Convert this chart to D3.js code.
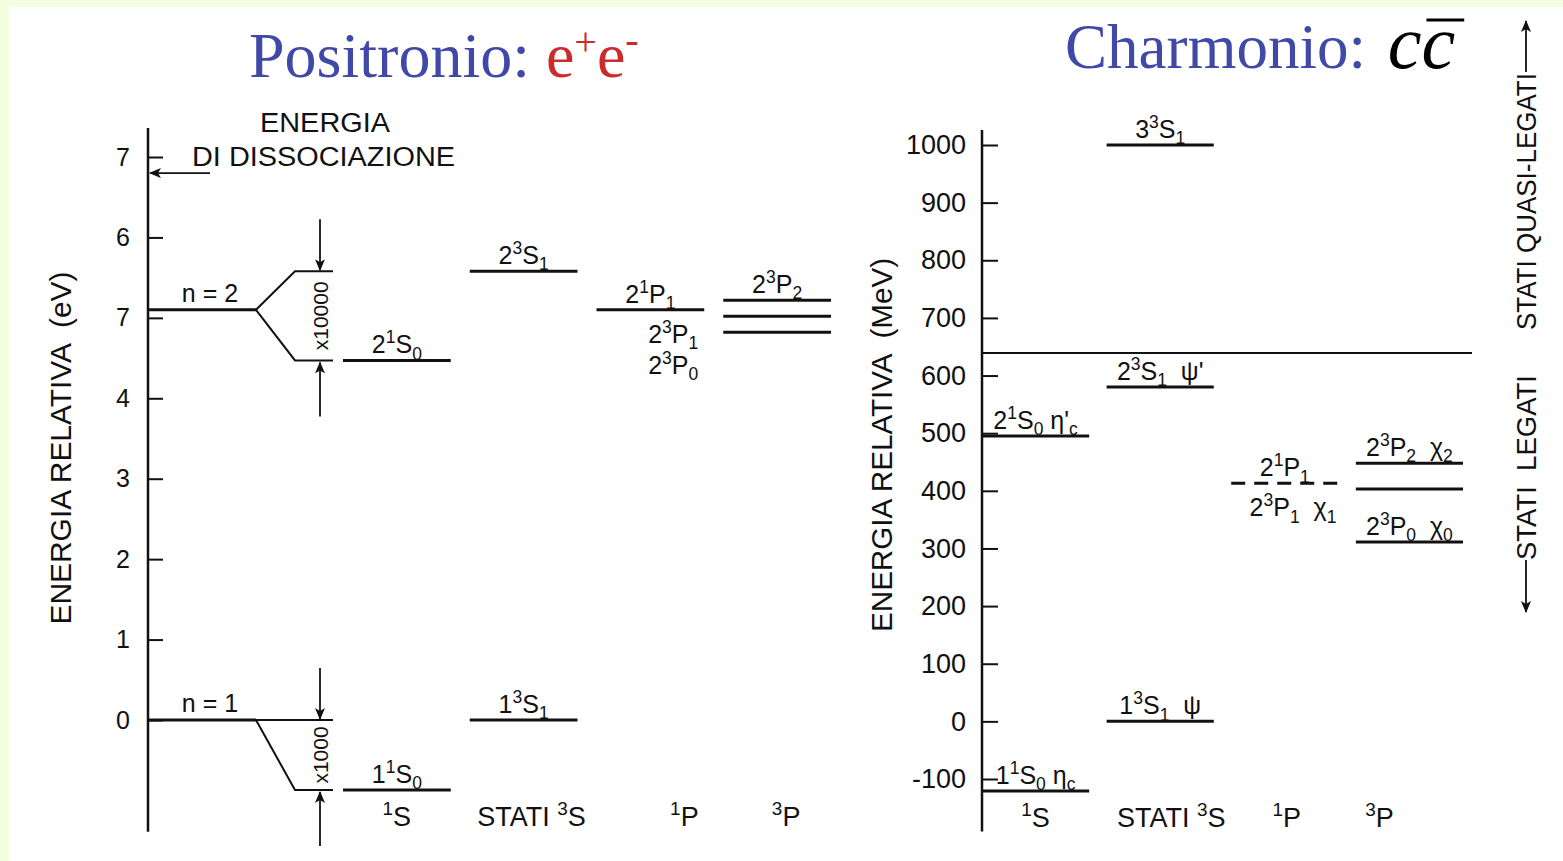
<!DOCTYPE html>
<html>
<head>
<meta charset="utf-8">
<script src="https://cdn.jsdelivr.net/npm/d3@7"></script>
<style>
  body { margin: 0; background: #f4fde2; }
  svg { display: block; font-family: "Liberation Sans", Arial, Helvetica, sans-serif; }
  text { white-space: pre; }
</style>
</head>
<body>
<svg width="1563" height="861"></svg>
<script>
// ---------- data ----------
var columns = ["1S", "3S", "1P", "3P"];

// positronio, eV (split levels drawn magnified)
var posTicks = [7, 6, 5, 4, 3, 2, 1, 0];
var posTickLabels = ["7", "6", "7", "4", "3", "2", "1", "0"];
var posDissociation = 6.8;
var posFans = [
  {label: "n = 2", value: 5.1, targets: [5.58, 4.47], factor: "x10000"},
  {label: "n = 1", value: 0, targets: [0, -0.87], factor: "x1000"}
];
var posLevels = [
  {col: "1S", value: 4.47, label: "2^1S_0"},
  {col: "1S", value: -0.87, label: "1^1S_0"},
  {col: "3S", value: 5.58, label: "2^3S_1"},
  {col: "3S", value: 0, label: "1^3S_1"},
  {col: "1P", value: 5.1, label: "2^1P_1"},
  {col: "3P", value: 5.22, label: "2^3P_2"},
  {col: "3P", value: 5.02, label: ""},
  {col: "3P", value: 4.82, label: ""}
];
var posBelowLabels = [{col: "1P", value: 5.1, labels: ["2^3P_1", "2^3P_0"]}];
var posColLabels = ["^1S", "STATI ^3S", "^1P", "^3P"];

// charmonio, MeV relative to J/psi
var ccTicks = [1000, 900, 800, 700, 600, 500, 400, 300, 200, 100, 0, -100];
var ccThreshold = 639;
var ccLevels = [
  {col: "1S", value: -121, label: "1^1S_0 η_c"},
  {col: "1S", value: 495, label: "2^1S_0 η'_c"},
  {col: "3S", value: 0, label: "1^3S_1  ψ"},
  {col: "3S", value: 580, label: "2^3S_1  ψ'"},
  {col: "3S", value: 1000, label: "3^3S_1"},
  {col: "1P", value: 413, label: "2^1P_1"},
  {col: "3P", value: 448, label: "2^3P_2  χ_2"},
  {col: "3P", value: 403, label: ""},
  {col: "3P", value: 311, label: "2^3P_0  χ_0"}
];
var ccBelowLabels = [{col: "1P", value: 413, labels: ["2^3P_1  χ_1"]}];
var ccColLabels = ["^1S", "STATI ^3S", "^1P", "^3P"];
var ccDashedCols = ["1P"];

// ---------- drawing ----------
var svg = d3.select("svg");
var W = 1563, H = 861;
var ink = "#111";
var serif = "'Liberation Serif', 'Times New Roman', serif";

svg.append("rect").attr("width", W).attr("height", H).attr("fill", "#f4fde2");
svg.append("rect").attr("x", 9).attr("y", 7).attr("width", W - 9).attr("height", H - 7).attr("fill", "#fff");

svg.append("defs").append("marker")
    .attr("id", "arrow")
    .attr("markerUnits", "userSpaceOnUse")
    .attr("markerWidth", 12).attr("markerHeight", 10)
    .attr("refX", 11).attr("refY", 5)
    .attr("orient", "auto")
  .append("path")
    .attr("d", "M0,0 L12,5 L0,10 L3,5 Z")
    .attr("fill", ink);

// text with ^x superscripts and _x subscripts
function rich(sel, str, fs) {
  var parts = [], buf = "", i = 0;
  while (i < str.length) {
    var ch = str[i];
    if (ch === "^" || ch === "_") {
      if (buf) { parts.push({t: buf, k: 0}); buf = ""; }
      parts.push({t: str[i + 1], k: ch === "^" ? -1 : 1});
      i += 2;
    } else { buf += ch; i++; }
  }
  if (buf) parts.push({t: buf, k: 0});
  var shift = 0;
  sel.attr("fill", ink);
  parts.forEach(function(p) {
    var target = p.k === -1 ? -0.4 * fs : (p.k === 1 ? 0.25 * fs : 0);
    sel.append("tspan")
      .attr("dy", target - shift)
      .attr("font-size", p.k ? fs * 0.7 : fs)
      .text(p.t);
    shift = target;
  });
  return sel;
}

function arrow(g, x1, y1, x2, y2) {
  g.append("line")
    .attr("x1", x1).attr("y1", y1).attr("x2", x2).attr("y2", y2)
    .attr("stroke", ink).attr("stroke-width", 1.8)
    .attr("marker-end", "url(#arrow)");
}

function styleAxis(g, fs) {
  g.select(".domain").remove();
  g.attr("font-family", null).attr("font-size", null);
  g.selectAll("line").attr("stroke", ink).attr("stroke-width", 2);
  g.selectAll("text").attr("font-size", fs).attr("fill", ink);
}

function drawLevels(g, levels, x, y, dashedCols) {
  var bw = x.bandwidth();
  levels.forEach(function(d) {
    var yy = y(d.value);
    g.append("line")
      .attr("x1", x(d.col)).attr("x2", x(d.col) + bw)
      .attr("y1", yy).attr("y2", yy)
      .attr("stroke", ink).attr("stroke-width", 3)
      .attr("stroke-dasharray", dashedCols && dashedCols.indexOf(d.col) >= 0 ? "14,9" : null);
    if (d.label) {
      rich(g.append("text")
        .attr("x", x(d.col) + bw / 2).attr("y", yy - 7)
        .attr("text-anchor", "middle"), d.label, 25);
    }
  });
}

function drawBelow(g, items, x, y, dx) {
  items.forEach(function(d) {
    d.labels.forEach(function(l, i) {
      rich(g.append("text")
        .attr("x", x(d.col) + x.bandwidth() + dx)
        .attr("y", y(d.value) + 33 + i * 31)
        .attr("text-anchor", "end"), l, 25);
    });
  });
}

function drawColLabels(g, labels, x, dxs, yy) {
  columns.forEach(function(c, i) {
    rich(g.append("text")
      .attr("x", x(c) + x.bandwidth() / 2 + dxs[i]).attr("y", yy)
      .attr("text-anchor", "middle"), labels[i], 27);
  });
}

// ---- titles ----
var t1 = svg.append("text").attr("x", 249).attr("y", 77)
    .attr("font-family", serif)
    .attr("font-size", 64);
t1.append("tspan").attr("fill", "#4048a8").text("Positronio: ");
t1.append("tspan").attr("fill", "#cc2b2b").text("e");
t1.append("tspan").attr("fill", "#cc2b2b").attr("font-size", 40).attr("dy", -22).text("+");
t1.append("tspan").attr("fill", "#cc2b2b").attr("dy", 22).text("e");
t1.append("tspan").attr("fill", "#cc2b2b").attr("font-size", 40).attr("dy", -24).text("-");

var t2 = svg.append("text").attr("x", 1065).attr("y", 68)
    .attr("font-family", serif)
    .attr("font-size", 63).attr("fill", "#4048a8")
    .text("Charmonio: ");
var ccX = 1065 + t2.node().getComputedTextLength() + 6;
var cc = svg.append("text").attr("x", ccX).attr("y", 68)
    .attr("font-family", serif)
    .attr("font-size", 76).attr("font-style", "italic").attr("fill", "#000")
    .text("c");
var cw = cc.node().getComputedTextLength();
svg.append("text").attr("x", ccX + cw).attr("y", 68)
    .attr("font-family", serif)
    .attr("font-size", 76).attr("font-style", "italic").attr("fill", "#000")
    .text("c");
svg.append("line")
    .attr("x1", ccX + cw + 5).attr("x2", ccX + 2 * cw + 9)
    .attr("y1", 20).attr("y2", 20)
    .attr("stroke", "#000").attr("stroke-width", 3);

// ---- positronio panel ----
var posAxisX = 148;
var yPos = d3.scaleLinear().domain([0, 7]).range([720, 157]);
var xPos = d3.scaleBand().domain(columns).range([343, 831]).paddingInner(0.15);
var left = svg.append("g");

left.append("line")
    .attr("x1", posAxisX).attr("x2", posAxisX)
    .attr("y1", yPos(7.36)).attr("y2", yPos(-1.39))
    .attr("stroke", ink).attr("stroke-width", 2.5);

left.append("g")
    .attr("transform", "translate(" + posAxisX + ",0)")
    .call(d3.axisLeft(yPos).tickValues(posTicks)
      .tickFormat(function(d, i) { return posTickLabels[i]; })
      .tickSizeInner(-15).tickSizeOuter(0).tickPadding(18))
    .call(styleAxis, 25);

left.append("text")
    .attr("transform", "translate(71,448) rotate(-90)")
    .attr("text-anchor", "middle").attr("fill", ink)
    .attr("font-size", 29).attr("textLength", 353).attr("lengthAdjust", "spacingAndGlyphs")
    .text("ENERGIA RELATIVA  (eV)");

// dissociation energy
arrow(left, posAxisX + 62, yPos(posDissociation), posAxisX + 2, yPos(posDissociation));
left.append("text").attr("x", 325).attr("y", yPos(posDissociation) - 41)
    .attr("text-anchor", "middle").attr("font-size", 27).attr("fill", ink)
    .attr("textLength", 130).attr("lengthAdjust", "spacingAndGlyphs")
    .text("ENERGIA");
left.append("text").attr("x", 192).attr("y", yPos(posDissociation) - 7)
    .attr("font-size", 27).attr("fill", ink)
    .attr("textLength", 263).attr("lengthAdjust", "spacingAndGlyphs")
    .text("DI DISSOCIAZIONE");

// n levels and their magnified splitting
var fanX0 = posAxisX + 108, fanX1 = posAxisX + 147, fanX2 = posAxisX + 185, magX = posAxisX + 172;
posFans.forEach(function(f) {
  var y0 = yPos(f.value);
  left.append("line")
    .attr("x1", posAxisX).attr("x2", fanX0).attr("y1", y0).attr("y2", y0)
    .attr("stroke", ink).attr("stroke-width", 3);
  left.append("text").attr("x", posAxisX + 62).attr("y", y0 - 8)
    .attr("text-anchor", "middle").attr("font-size", 25).attr("fill", ink).text(f.label);
  f.targets.forEach(function(t) {
    left.append("path")
      .attr("d", "M" + fanX0 + "," + y0 + "L" + fanX1 + "," + yPos(t) + "L" + fanX2 + "," + yPos(t))
      .attr("fill", "none").attr("stroke", ink).attr("stroke-width", 2);
  });
  var yTop = yPos(d3.max(f.targets)), yBot = yPos(d3.min(f.targets));
  left.append("text")
    .attr("transform", "translate(" + (magX + 8) + "," + ((yTop + yBot) / 2) + ") rotate(-90)")
    .attr("text-anchor", "middle").attr("font-size", 21).attr("fill", ink)
    .text(f.factor);
  arrow(left, magX, yTop - 52, magX, yTop - 1);
  arrow(left, magX, yBot + 56, magX, yBot + 2);
});

drawLevels(left, posLevels, xPos, yPos);
drawBelow(left, posBelowLabels, xPos, yPos, -6);
drawColLabels(left, posColLabels, xPos, [0, 8, 34, 9], 826);

// ---- charmonio panel ----
var ccAxisX = 982;
var yCC = d3.scaleLinear().domain([-100, 1000]).range([779, 145]);
var xCC = d3.scaleBand().domain(columns).range([982, 1463]).paddingInner(0.14);
var right = svg.append("g");

right.append("line")
    .attr("x1", ccAxisX).attr("x2", ccAxisX)
    .attr("y1", yCC(1026)).attr("y2", yCC(-191))
    .attr("stroke", ink).attr("stroke-width", 2.5);

right.append("g")
    .attr("transform", "translate(" + ccAxisX + ",0)")
    .call(d3.axisLeft(yCC).tickValues(ccTicks)
      .tickFormat(function(d) { return String(d); })
      .tickSizeInner(-16).tickSizeOuter(0).tickPadding(16))
    .call(styleAxis, 27);

right.append("text")
    .attr("transform", "translate(892,445) rotate(-90)")
    .attr("text-anchor", "middle").attr("fill", ink)
    .attr("font-size", 30).attr("textLength", 374).attr("lengthAdjust", "spacingAndGlyphs")
    .text("ENERGIA RELATIVA  (MeV)");

// open-charm threshold
right.append("line")
    .attr("x1", ccAxisX).attr("x2", 1472)
    .attr("y1", yCC(ccThreshold)).attr("y2", yCC(ccThreshold))
    .attr("stroke", ink).attr("stroke-width", 2);

drawLevels(right, ccLevels, xCC, yCC, ccDashedCols);
drawBelow(right, ccBelowLabels, xCC, yCC, -2);
drawColLabels(right, ccColLabels, xCC, [0, 11, 2, -30], 827);

// bound / quasi-bound side labels
var yThr = yCC(ccThreshold), sideX = 1526;
right.append("text")
    .attr("transform", "translate(" + (sideX + 10) + "," + (yThr - 23) + ") rotate(-90)")
    .attr("font-size", 28).attr("fill", ink)
    .attr("textLength", 257).attr("lengthAdjust", "spacingAndGlyphs")
    .text("STATI QUASI-LEGATI");
arrow(right, sideX, yThr - 281, sideX, yThr - 332);
right.append("text")
    .attr("transform", "translate(" + (sideX + 10) + "," + (yThr + 207) + ") rotate(-90)")
    .attr("font-size", 28).attr("fill", ink)
    .attr("textLength", 185).attr("lengthAdjust", "spacingAndGlyphs")
    .text("STATI  LEGATI");
arrow(right, sideX, yThr + 207, sideX, yThr + 259);
</script>
</body>
</html>
